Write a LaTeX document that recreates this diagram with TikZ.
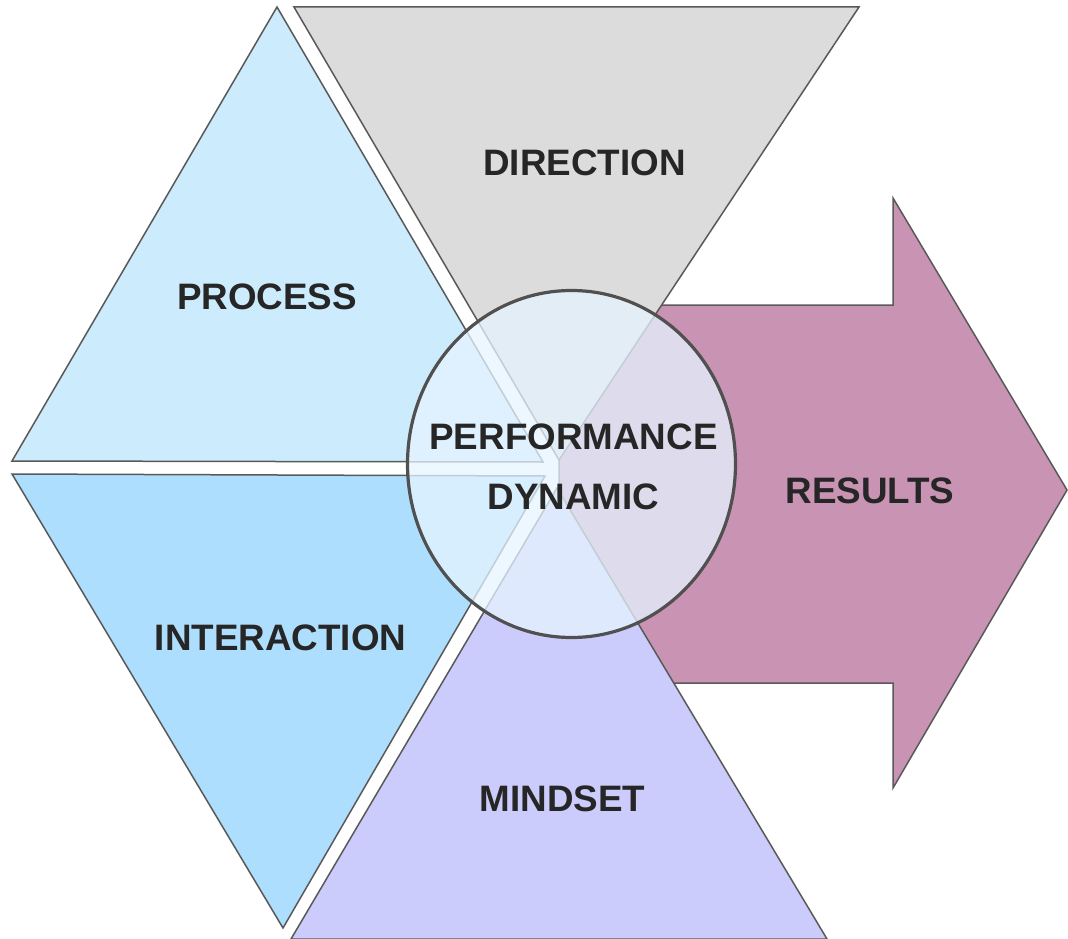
\documentclass[tikz,border=0pt]{standalone}
\usepackage{fontspec}
\setmainfont{Liberation Sans}
\definecolor{edgec}{HTML}{595959}
\definecolor{hubedge}{HTML}{505050}
\definecolor{procc}{HTML}{CCEBFD}
\definecolor{interc}{HTML}{ADDEFD}
\definecolor{dirc}{HTML}{DCDCDC}
\definecolor{mindc}{HTML}{CCCCFC}
\definecolor{resc}{HTML}{C993B4}
\definecolor{circc}{HTML}{E6F4FF}
\definecolor{txtc}{HTML}{262626}
\tikzset{
  piece/.style={draw=edgec, line width=1.5pt, line join=miter},
  lbl/.style={inner sep=0pt, text=txtc, font=\bfseries\fontsize{36.8}{60}\selectfont, align=center},
  hub/.style={draw=hubedge, line width=3.2pt, fill=circc, fill opacity=0.75, draw opacity=1}
}
\begin{document}
\begin{tikzpicture}[x=1pt,y=-1pt]
\useasboundingbox (0,0) rectangle (1068,939);
\begin{scope}
\clip (0,0) rectangle (1068,939);
% results arrow (behind)
\draw[piece, fill=resc] (559,305) -- (893,305) -- (893,198) -- (1067,490) -- (893,788) -- (893,683) -- (559,683) -- cycle;
% triangles
\draw[piece, fill=procc] (277,7) -- (12,461) -- (543,462) -- cycle;
\draw[piece, fill=dirc] (294,7) -- (859,7) -- (559,460) -- cycle;
\draw[piece, fill=interc] (12,474) -- (545,476) -- (283,928) -- cycle;
\draw[piece, fill=mindc] (557,488) -- (827,939) -- (291,939) -- cycle;
% centre
\draw[hub] (571.5,464) ellipse [x radius=164, y radius=173.5];
\end{scope}
\node[lbl] (dir) at (584.5,162.5) {DIRECTION};
\node[lbl] (proc) at (267,296.5) {PROCESS};
\node[lbl] (inter) at (280.5,638) {INTERACTION};
\node[lbl] (mind) at (562.5,799) {MINDSET};
\node[lbl] (res) at (870,491) {RESULTS};
\node[lbl] (perf) at (573.5,467) {PERFORMANCE\\DYNAMIC};
\end{tikzpicture}
\end{document}
